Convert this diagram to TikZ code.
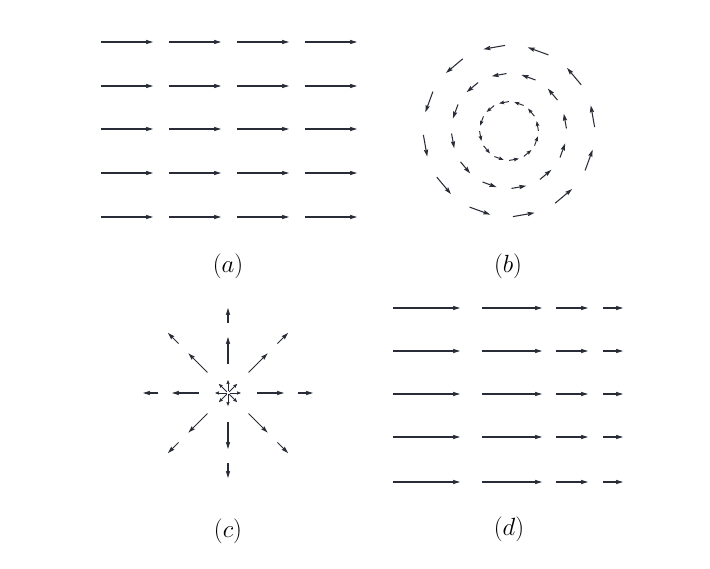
\documentclass[tikz,border=0pt]{standalone}
\usetikzlibrary{arrows.meta,calc}
\definecolor{ink}{RGB}{40,44,54}
\begin{document}
\begin{tikzpicture}[x=1pt,y=1pt,
  vec/.style={ink, line width=1.05pt, -{Stealth[length=7pt,width=4.2pt,inset=1pt]}},
  svec/.style={ink, line width=0.95pt, -{Stealth[length=5pt,width=3.6pt,inset=0.7pt]}},
  tvec/.style={ink, line width=0.75pt, -{Stealth[length=4pt,width=3.2pt,inset=0.5pt]}},
  lbl/.style={font=\fontsize{29}{34}\selectfont, inner sep=0pt}]
\fill[white] (0,0) rectangle (710,568);
\useasboundingbox (0,0) rectangle (710,568);
% ---- (a) uniform field
\foreach \y in {42,86,129,173,217}
  \foreach \x in {101,169,237,305}
    \draw[vec] (\x,568-\y) -- ++(52,0);
% ---- (b) circulating field
\coordinate (B) at (509,437);
\foreach \r/\l/\s in {29/10/svec,57/15/vec,85/22/vec}
  \foreach \k in {0,...,11}{
    \pgfmathsetmacro\ang{100-30*\k}
    \draw[\s] ($(B)+(\ang:\r)+(\ang-90:\l/2)$) -- ++(\ang+90:\l);
  }
% ---- (c) radial field
\coordinate (C) at (228,175);
\foreach \ang in {0,45,...,315}{
  \draw[tvec] ($(C)+(\ang:1.5)$) -- ($(C)+(\ang:13)$);
  \draw[vec] ($(C)+(\ang:29)$) -- ($(C)+(\ang:56)$);
  \draw[vec] ($(C)+(\ang:70)$) -- ($(C)+(\ang:85)$);
}
% ---- (d) field decreasing in strength
\foreach \y in {308,351,394,437,482}
  \foreach \x/\l in {393/67,482/60,556/32,603/20}
    \draw[vec] (\x,568-\y) -- ++(\l,0);
% ---- labels
\node[lbl] (la) at (228,568-266) {$(a)$};
\node[lbl] (lb) at (508,568-266) {$(b)$};
\node[lbl] (lc) at (228,568-531) {$(c)$};
\node[lbl] (ld) at (509,568-529) {$(d)$};
\end{tikzpicture}
\end{document}
